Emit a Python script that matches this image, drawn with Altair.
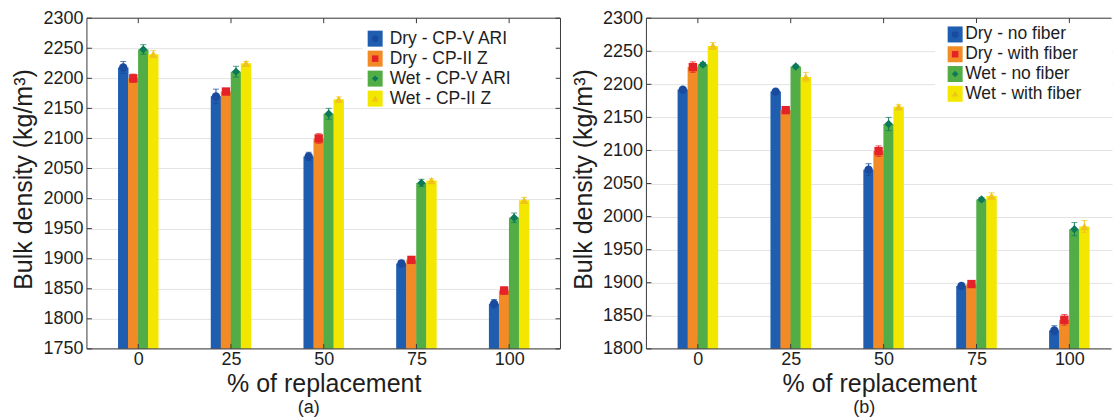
import altair as alt
import pandas as pd

# ---------------- data ----------------
replacement = [0, 25, 50, 75, 100]

# panel (a): cement type
series_a = ["Dry - CP-V ARI", "Dry - CP-II Z", "Wet - CP-V ARI", "Wet - CP-II Z"]
dry_cpv = [2218, 2170, 2070, 1892, 1825]
dry_cpii = [2200, 2178, 2100, 1898, 1847]
wet_cpv = [2248, 2211, 2141, 2026, 1968]
wet_cpii = [2240, 2225, 2165, 2030, 1997]
err_dry_cpv = [10, 12, 7, 5, 7]
err_dry_cpii = [7, 3, 8, 4, 6]
err_wet_cpv = [8, 9, 9, 6, 8]
err_wet_cpii = [6, 3, 4, 3, 5]
y_ticks_a = [1750, 1800, 1850, 1900, 1950, 2000, 2050, 2100, 2150, 2200, 2250, 2300]

# panel (b): fiber addition
series_b = ["Dry - no fiber", "Dry - with fiber", "Wet - no fiber", "Wet - with fiber"]
dry_nofiber = [2192, 2189, 2071, 1895, 1828]
dry_fiber = [2226, 2161, 2099, 1898, 1844]
wet_nofiber = [2230, 2227, 2140, 2026, 1981]
wet_fiber = [2258, 2211, 2166, 2031, 1985]
err_dry_nofiber = [3, 3, 9, 3, 7]
err_dry_fiber = [8, 5, 8, 4, 8]
err_wet_nofiber = [3, 2, 10, 3, 10]
err_wet_fiber = [5, 7, 3, 5, 9]
y_ticks_b = [1800, 1850, 1900, 1950, 2000, 2050, 2100, 2150, 2200, 2250, 2300]

# ---------------- style ----------------
FONT = "Liberation Sans"
INK = "#1e1e1e"
FRAME = "#3a3a3a"
GRID = "#e3e3e3"
H = 331
STEP = 25                     # spacing of the replacement levels
GROUP = 0.432                 # share of a step covered by one bar group
BAR_UNITS = STEP * GROUP / 4  # width of one bar in x units

bar_colors = ["#1f5db0", "#f28a26", "#52ad46", "#f3e700"]
marker_colors = ["#1a4a9e", "#e52228", "#0c7a58", "#f0c31a"]
marker_shapes = ["circle", "square", "diamond", "triangle-up"]

one = pd.DataFrame({"k": [0]})


def panel(series, values, errors, y_ticks, width, full_width, legend,
          caption, caption_x, right_border, anchor):
    rows = []
    for j, (name, vals, errs) in enumerate(zip(series, values, errors)):
        for rep, v, e in zip(replacement, vals, errs):
            rows.append({"rep": rep, "series": name,
                         "xpos": rep + (j - 1.5) * BAR_UNITS,
                         "value": v, "lo": v - e, "hi": v + e})
    df = pd.DataFrame(rows)
    ticks_df = pd.DataFrame({"tick": y_ticks})
    cats_df = pd.DataFrame({"rep": replacement})

    y_min, y_max = y_ticks[0], y_ticks[-1]
    x_lo = replacement[0] - STEP / 2
    x_hi = x_lo + (len(replacement) * STEP) * width / full_width
    x_scale = alt.Scale(domain=[x_lo, x_hi], nice=False, zero=False)
    y_scale = alt.Scale(domain=[y_min, y_max], nice=False, zero=False)

    x_axis = alt.Axis(values=replacement, format="d", title="% of replacement",
                      grid=False, labelAngle=0, labelFont=FONT,
                      labelFontSize=18, labelColor=INK, labelPadding=2,
                      ticks=False, tickSize=0, domain=False, titleFont=FONT,
                      titleFontSize=25, titleFontWeight="normal",
                      titleColor=INK, titleBaseline="alphabetic", titleY=43)
    y_axis = alt.Axis(values=y_ticks, format="d", grid=True, gridColor=GRID,
                      ticks=False, tickSize=0, domain=False, labelFont=FONT,
                      labelFontSize=18, labelColor=INK, labelPadding=4,
                      title="Bulk density (kg/m³)", titleFont=FONT,
                      titleFontSize=25, titleFontWeight="normal",
                      titleColor=INK, titleBaseline="alphabetic",
                      titleX=-55, titleY=161)

    def X(field):
        return alt.X(field, type="quantitative", scale=x_scale, axis=x_axis)

    def Y(field):
        return alt.Y(field, type="quantitative", scale=y_scale, axis=y_axis)

    fill_scale = alt.Scale(domain=series, range=marker_colors)
    bar_px = BAR_UNITS * full_width / (len(replacement) * STEP)

    bars = alt.Chart(df).mark_bar(size=bar_px + 0.2).encode(
        x=X("xpos"), y=Y("value"), y2=alt.datum(y_min),
        color=alt.Color("series:N", sort=series,
                        scale=alt.Scale(domain=series, range=bar_colors),
                        legend=None),
    )
    err = alt.Chart(df).mark_rule(strokeWidth=1).encode(
        x=X("xpos"), y=Y("lo"), y2="hi:Q",
        stroke=alt.Stroke("series:N", scale=fill_scale, legend=None),
    )
    cap_hi = alt.Chart(df).mark_tick(orient="horizontal", thickness=1,
                                     size=6).encode(
        x=X("xpos"), y=Y("hi"),
        fill=alt.Fill("series:N", scale=fill_scale, legend=None),
    )
    cap_lo = alt.Chart(df).mark_tick(orient="horizontal", thickness=1,
                                     size=6).encode(
        x=X("xpos"), y=Y("lo"),
        fill=alt.Fill("series:N", scale=fill_scale, legend=None),
    )
    points = alt.Chart(df).mark_point(filled=True, size=70, opacity=1).encode(
        x=X("xpos"), y=Y("value"),
        fill=alt.Fill("series:N", scale=fill_scale, legend=None),
        shape=alt.Shape("series:N", scale=alt.Scale(domain=series,
                                                    range=marker_shapes),
                        legend=None),
    )

    # frame and inward ticks
    frame = [
        alt.Chart(one).mark_rule(color=FRAME).encode(
            x=alt.value(0), x2=alt.value(width - 0.5), y=alt.value(0)),
        alt.Chart(one).mark_rule(color=FRAME).encode(
            x=alt.value(0), x2=alt.value(width - 0.5), y=alt.value(H)),
        alt.Chart(one).mark_rule(color=FRAME).encode(
            x=alt.value(0), y=alt.value(0), y2=alt.value(H)),
    ]
    if right_border:
        frame.append(alt.Chart(one).mark_rule(color=FRAME).encode(
            x=alt.value(width), y=alt.value(0), y2=alt.value(H)))
        frame.append(alt.Chart(ticks_df).mark_rule(color=FRAME).encode(
            y=Y("tick"), x=alt.value(width - 5), x2=alt.value(width)))
    frame.append(alt.Chart(ticks_df).mark_rule(color=FRAME).encode(
        y=Y("tick"), x=alt.value(0), x2=alt.value(5)))
    frame.append(alt.Chart(cats_df).mark_rule(color=FRAME).encode(
        x=X("rep"), y=alt.value(0), y2=alt.value(5)))
    frame.append(alt.Chart(cats_df).mark_rule(color=FRAME).encode(
        x=X("rep"), y=alt.value(H - 5), y2=alt.value(H)))

    # legend: white box, colored swatches with the series marker, labels
    bx0, bx1, by0, by1 = legend["box"]
    leg = [alt.Chart(one).mark_rect(color="white").encode(
        x=alt.value(bx0), x2=alt.value(bx1), y=alt.value(by0),
        y2=alt.value(by1))]
    for i, name in enumerate(series):
        yc = legend["y0"] + i * legend["step"]
        sx = legend["sq_x"]
        leg.append(alt.Chart(one).mark_rect(color=bar_colors[i]).encode(
            x=alt.value(sx - 7.5), x2=alt.value(sx + 7.5),
            y=alt.value(yc - 8), y2=alt.value(yc + 8)))
        leg.append(alt.Chart(one).mark_point(
            filled=True, size=42, opacity=1, shape=marker_shapes[i],
            color=marker_colors[i]).encode(x=alt.value(sx), y=alt.value(yc)))
        leg.append(alt.Chart(one).mark_text(
            align="left", baseline="middle", font=FONT, fontSize=17.5,
            color=INK).encode(x=alt.value(legend["text_x"]), y=alt.value(yc),
                              text=alt.value(name)))

    cap = alt.Chart(one).mark_text(
        font=FONT, fontSize=18, color=INK, baseline="alphabetic",
        align="center").encode(x=alt.value(caption_x), y=alt.value(395),
                               text=alt.value(caption))

    layers = [bars, err, cap_hi, cap_lo, points] + frame + leg + [cap]
    if anchor:
        # invisible corner marks fixing the outer margins of the figure
        layers.append(alt.Chart(one).mark_rule(color="white", strokeWidth=1)
                      .encode(x=alt.value(-85.5), x2=alt.value(-84),
                              y=alt.value(-16.5), y2=alt.value(H + 69)))
    return alt.layer(*layers).properties(width=width, height=H)


panel_a = panel(
    series_a, [dry_cpv, dry_cpii, wet_cpv, wet_cpii],
    [err_dry_cpv, err_dry_cpii, err_wet_cpv, err_wet_cpii],
    y_ticks_a, 474, 474,
    dict(box=(276, 469, 8, 88), sq_x=288.5, text_x=303, y0=20.5, step=20),
    "(a)", 222, True, True,
)
panel_b = panel(
    series_b, [dry_nofiber, dry_fiber, wet_nofiber, wet_fiber],
    [err_dry_nofiber, err_dry_fiber, err_wet_nofiber, err_wet_fiber],
    y_ticks_b, 466, 475,
    dict(box=(289, 466, 5, 86), sq_x=309, text_x=319, y0=16.3, step=19.8),
    "(b)", 218, False, False,
)

chart = (
    alt.hconcat(panel_a, panel_b, spacing=86, bounds="flush")
    .properties(padding=0, background="white")
    .configure_view(stroke="transparent")
)

chart.save("out.html", embed_options={"renderer": "svg", "actions": False})
